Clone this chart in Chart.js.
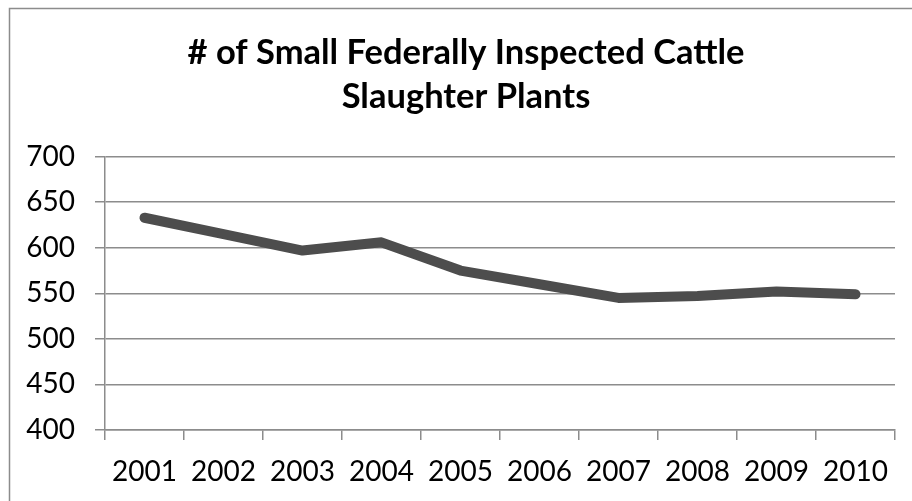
<!DOCTYPE html>
<html>
<head>
<meta charset="utf-8">
<script src="https://cdn.jsdelivr.net/npm/chart.js@4"></script>
<style>
  html, body { margin: 0; padding: 0; background: #fff; }
  #wrap { width: 912px; height: 501px; }
</style>
</head>
<body>
<div id="wrap"><canvas id="chart" width="912" height="501"></canvas></div>
<script>
const years = ["2001", "2002", "2003", "2004", "2005", "2006", "2007", "2008", "2009", "2010"];
const plants = [633, 615, 597, 606, 575, 560, 545, 547, 552, 549];
const titleLines = ["# of Small Federally Inspected Cattle", "Slaughter Plants"];

const gridGray = "#8c8c8c";

// outer frame like the spreadsheet chart border
const frame = {
  id: "frame",
  afterLayout(chart) {
    // centre the title on the frame rather than on the padded box
    if (chart.titleBlock) chart.titleBlock.left = 37;
  },
  beforeDraw(chart) {
    const ctx = chart.ctx;
    ctx.save();
    ctx.fillStyle = "#fff";
    ctx.fillRect(0, 0, chart.width, chart.height);
    ctx.strokeStyle = gridGray;
    ctx.lineWidth = 1.5;
    ctx.strokeRect(9.5, 8.5, 920, 520);
    ctx.restore();
  }
};

new Chart(document.getElementById("chart"), {
  type: "line",
  data: {
    labels: years,
    datasets: [{
      data: plants,
      borderColor: "#4d4d4d",
      borderWidth: 10,
      borderCapStyle: "round",
      borderJoinStyle: "round",
      pointRadius: 0,
      tension: 0
    }]
  },
  options: {
    responsive: false,
    animation: false,
    layout: { padding: { left: 10, right: 17, top: 8, bottom: 0 } },
    plugins: {
      legend: { display: false },
      tooltip: { enabled: false },
      title: {
        display: true,
        text: titleLines,
        color: "#000",
        font: { family: "Lato", size: 34.5, weight: "bold", lineHeight: 1.3 },
        padding: { top: 22, bottom: 37 }
      }
    },
    scales: {
      x: {
        offset: true,
        border: { color: gridGray, width: 1.5 },
        grid: { offset: true, drawOnChartArea: false, drawTicks: true, tickLength: 10, color: gridGray, lineWidth: 1.5 },
        ticks: { color: "#000", font: { family: "Lato", size: 28 }, padding: 15, maxRotation: 0, autoSkip: false },
        afterFit(scale) { scale.height = 71; }
      },
      y: {
        min: 400,
        max: 700,
        border: { color: gridGray, width: 1.5 },
        grid: { color: gridGray, lineWidth: 1.5, tickLength: 10 },
        ticks: { stepSize: 50, color: "#000", font: { family: "Lato", size: 28 }, padding: 20 },
        afterFit(scale) { scale.width = 95; }
      }
    }
  },
  plugins: [frame]
});
</script>
</body>
</html>
